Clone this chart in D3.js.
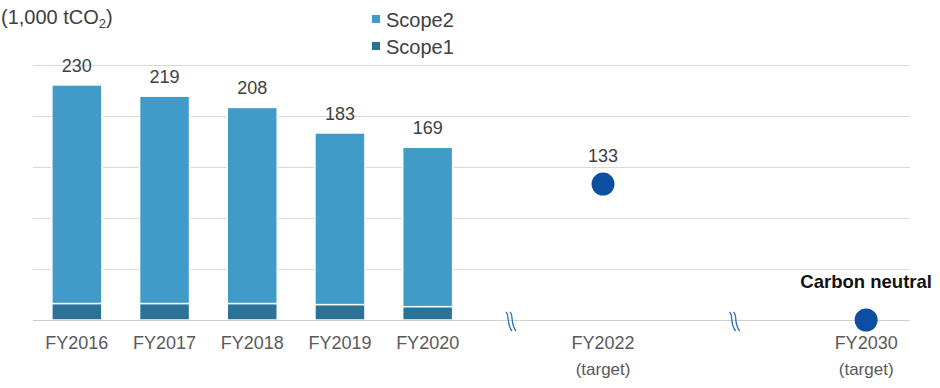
<!DOCTYPE html>
<html>
<head>
<meta charset="utf-8">
<script src="https://cdn.jsdelivr.net/npm/d3@7"></script>
<style>
  body { margin: 0; background: #fff; }
  svg { font-family: "Liberation Sans", Arial, sans-serif; }
</style>
</head>
<body>
<svg id="chart" width="940" height="388"></svg>
<script>
"use strict";

// slots along the x axis (gap entries are spacer slots)
var slots = ["FY2016", "FY2017", "FY2018", "FY2019", "FY2020", "gap1", "FY2022", "gap2", "gap3", "FY2030"];
var years = ["FY2016", "FY2017", "FY2018", "FY2019", "FY2020"];
var scope1 = [16, 16, 16, 15, 13];
var totals = [230, 219, 208, 183, 169];
var targets = ["FY2022", "FY2030"];
var targetValues = [133, 0];
var targetLabels = ["133", "Carbon neutral"];
var breakSlots = [5.45, 8.0];
var yTicks = [0, 50, 100, 150, 200, 250];

function draw_chart() {
  var svg = d3.select("#chart");
  var plotLeft = 33, plotRight = 910, plotTop = 64.5, plotBottom = 320;

  var x = d3.scaleBand().domain(slots).range([plotLeft, plotRight]).paddingInner(0.43).paddingOuter(0.215);
  var slotPos = d3.scaleLinear().domain([0, slots.length]).range([plotLeft, plotRight]);
  var y = d3.scaleLinear().domain([0, 250]).range([plotBottom, plotTop]);

  // grid
  svg.append("g")
    .selectAll("line")
    .data(yTicks)
    .enter().append("line")
    .attr("x1", plotLeft).attr("x2", plotRight)
    .attr("y1", function (d) { return Math.round(y(d)) + 0.5; })
    .attr("y2", function (d) { return Math.round(y(d)) + 0.5; })
    .attr("stroke", "#d9d9d9")
    .attr("stroke-width", 1);

  // bars
  var bars = svg.append("g");
  years.forEach(function (yr, i) {
    bars.append("rect")
      .attr("x", x(yr)).attr("width", x.bandwidth())
      .attr("y", y(totals[i])).attr("height", y(scope1[i]) - y(totals[i]))
      .attr("fill", "#419bc8").attr("stroke", "#fff").attr("stroke-width", 1.5);
    bars.append("rect")
      .attr("x", x(yr)).attr("width", x.bandwidth())
      .attr("y", y(scope1[i])).attr("height", y(0) - y(scope1[i]))
      .attr("fill", "#2b7396").attr("stroke", "#fff").attr("stroke-width", 1.5);
    bars.append("text")
      .attr("x", x(yr) + x.bandwidth() / 2)
      .attr("y", y(totals[i]) - 13)
      .attr("text-anchor", "middle")
      .attr("font-size", 18).attr("fill", "#404040")
      .text(totals[i]);
  });

  // baseline over bars
  svg.append("line")
    .attr("x1", plotLeft).attr("x2", plotRight)
    .attr("y1", Math.round(y(0)) + 0.5).attr("y2", Math.round(y(0)) + 0.5)
    .attr("stroke", "#d0d0d0");

  // axis break marks
  breakSlots.forEach(function (s) {
    var bx = slotPos(s);
    [-2, 2].forEach(function (off) {
      var x0 = bx + off;
      svg.append("path")
        .attr("d", "M" + (x0 - 3) + "," + (y(0) - 8) +
          " C" + (x0 + 1) + "," + (y(0) - 4) + " " + (x0 - 3) + "," + (y(0) + 3) + " " + (x0 + 3) + "," + (y(0) + 11))
        .attr("fill", "none").attr("stroke", "#2f6fb5").attr("stroke-width", 1.3);
    });
  });

  // target dots
  targets.forEach(function (t, i) {
    var cx = x(t) + x.bandwidth() / 2;
    svg.append("circle")
      .attr("cx", cx).attr("cy", y(targetValues[i])).attr("r", 11.5)
      .attr("fill", "#0b4ea2");
    svg.append("text")
      .attr("x", cx)
      .attr("y", i === 0 ? y(targetValues[i]) - 22 : y(targetValues[i]) - 32)
      .attr("text-anchor", "middle")
      .attr("font-size", i === 0 ? 18 : 18.5)
      .attr("font-weight", i === 0 ? "normal" : "bold")
      .attr("fill", i === 0 ? "#404040" : "#111")
      .text(targetLabels[i]);
  });

  // axis labels
  years.concat(targets).forEach(function (lab) {
    var cx = x(lab) + x.bandwidth() / 2;
    svg.append("text")
      .attr("x", cx).attr("y", 349)
      .attr("text-anchor", "middle")
      .attr("font-size", 18).attr("fill", "#595959")
      .text(lab);
    if (targets.indexOf(lab) >= 0) {
      svg.append("text")
        .attr("x", cx).attr("y", 375)
        .attr("text-anchor", "middle")
        .attr("font-size", 17).attr("fill", "#595959")
        .text("(target)");
    }
  });

  // unit label
  var unit = svg.append("text").attr("x", 1).attr("y", 24)
    .attr("font-size", 20).attr("fill", "#404040");
  unit.append("tspan").text("(1,000 tCO");
  unit.append("tspan").attr("font-size", 13).attr("dy", 4).text("2");
  unit.append("tspan").attr("dy", -4).text(")");

  // legend
  var legend = [["Scope2", "#419bc8"], ["Scope1", "#2b7396"]];
  legend.forEach(function (l, i) {
    var ly = 26.5 + i * 27;
    svg.append("rect").attr("x", 372).attr("y", ly - 11.5).attr("width", 8).attr("height", 8)
      .attr("fill", l[1]);
    svg.append("text").attr("x", 386).attr("y", ly)
      .attr("font-size", 20).attr("fill", "#404040").text(l[0]);
  });
}

draw_chart();
</script>
</body>
</html>
